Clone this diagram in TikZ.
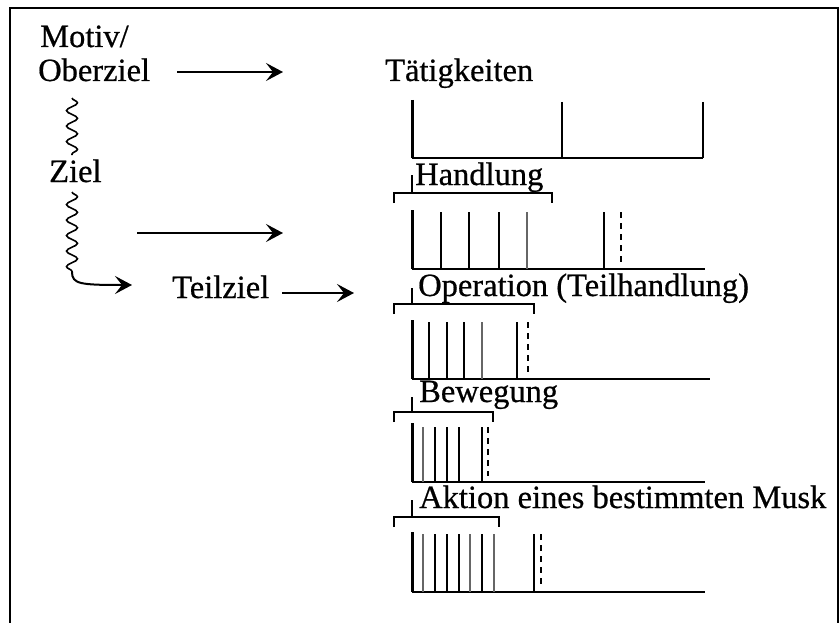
\documentclass[tikz,border=0pt]{standalone}
\usepackage{fontspec}
\setmainfont{Liberation Serif}[FakeBold=0.6]
\usetikzlibrary{arrows.meta,decorations.pathmorphing}

\tikzset{
  lbl/.style={inner sep=0pt, anchor=base west, font=\fontsize{32.5}{34}\selectfont},
  arr/.style={line width=2pt, -{Stealth[length=17pt,width=18pt,inset=7pt]}},
  wavy/.style={line width=1.6pt, decorate, decoration={snake, amplitude=5.5pt, segment length=15.5pt}},
  frameline/.style={line width=2.6pt},
  axis/.style={line width=2.2pt},
  leftbar/.style={line width=3pt},
  bar/.style={line width=1.8pt},
  lightbar/.style={line width=1.3pt, black!60},
  dashbar/.style={line width=1.8pt, dash pattern=on 6pt off 5pt},
  brace/.style={line width=1.5pt}
}

% one time axis: left edge, top, base line, right end
\newcommand{\timeaxis}[4]{%
  \draw[leftbar] (#1,#2) -- (#1,#3);
  \draw[axis] (#1,#3) -- (#4,#3);
}
% bracket under a label: tick top, bracket height, right end
\newcommand{\labelbracket}[3]{%
  \draw[brace] (412,#1) -- (412,#2);
  \draw[brace] (394,#2+10) -- (394,#2) -- (#3,#2) -- (#3,#2+10);
}

\begin{document}
\begin{tikzpicture}[x=1pt,y=-1pt]
\useasboundingbox (0,0) rectangle (840,623);
\fill[white] (0,0) rectangle (840,623);

% frame
\draw[frameline] (10,623) -- (10,8) -- (838,8) -- (838,623);

% left column: goals
\node[lbl] (motiv) at (40,47) {Motiv/};
\node[lbl] (ober) at (38,81) {Oberziel};
\node[lbl] (ziel) at (49,182) {Ziel};
\node[lbl] (teil) at (172,298) {Teilziel};

\coordinate (w1a) at (72,98);
\coordinate (w1b) at (72,155);
\coordinate (w2a) at (72,192);
\coordinate (w2b) at (72,272);
\coordinate (hk) at (132,285);
\draw[wavy] (w1a) -- (w1b);
\draw[wavy] (w2a) -- (w2b);
\draw[arr] (w2b) .. controls (72,284) and (80,285) .. (hk);

\coordinate (a1s) at (177,72);
\coordinate (a1e) at (283,72);
\coordinate (a2s) at (137,233);
\coordinate (a2e) at (283,233);
\coordinate (a3s) at (282,293);
\coordinate (a3e) at (354,293);
\draw[arr] (a1s) -- (a1e);
\draw[arr] (a2s) -- (a2e);
\draw[arr] (a3s) -- (a3e);

% right column: levels of activity
\node[lbl] (taet) at (385,81) {Tätigkeiten};
\timeaxis{412}{100}{158}{703}
\foreach \x in {562,703} \draw[bar] (\x,102) -- (\x,158);

\node[lbl] (hand) at (415,185) {Handlung};
\labelbracket{175}{193}{552}
\timeaxis{412}{210}{269}{705}
\foreach \x in {441,469,499,604} \draw[bar] (\x,212) -- (\x,269);
\draw[lightbar] (527,212) -- (527,269);
\draw[dashbar] (621,212) -- (621,264);

\node[lbl] (oper) at (418,296) {Operation (Teilhandlung)};
\labelbracket{288}{304}{534}
\timeaxis{412}{320}{379}{710}
\foreach \x in {429,447,464,517} \draw[bar] (\x,322) -- (\x,379);
\draw[lightbar] (482,322) -- (482,379);
\draw[dashbar] (528,322) -- (528,372);

\node[lbl] (bew) at (419,402) {Bewegung};
\labelbracket{397}{412}{493}
\timeaxis{412}{423}{482}{705}
\foreach \x in {435,447,459,482} \draw[bar] (\x,427) -- (\x,482);
\draw[lightbar] (423,427) -- (423,482);
\draw[dashbar] (488,427) -- (488,476);

\begin{scope}
\clip (10,8) rectangle (837,623);
\node[lbl] (akt) at (419,508) {Aktion eines bestimmten Musk};
\end{scope}
\labelbracket{500}{517}{499}
\timeaxis{412}{532}{592}{705}
\foreach \x in {435,447,459,482,534} \draw[bar] (\x,534) -- (\x,592);
\foreach \x in {423,470,494} \draw[lightbar] (\x,534) -- (\x,592);
\draw[dashbar] (541,534) -- (541,584);
\end{tikzpicture}
\end{document}
